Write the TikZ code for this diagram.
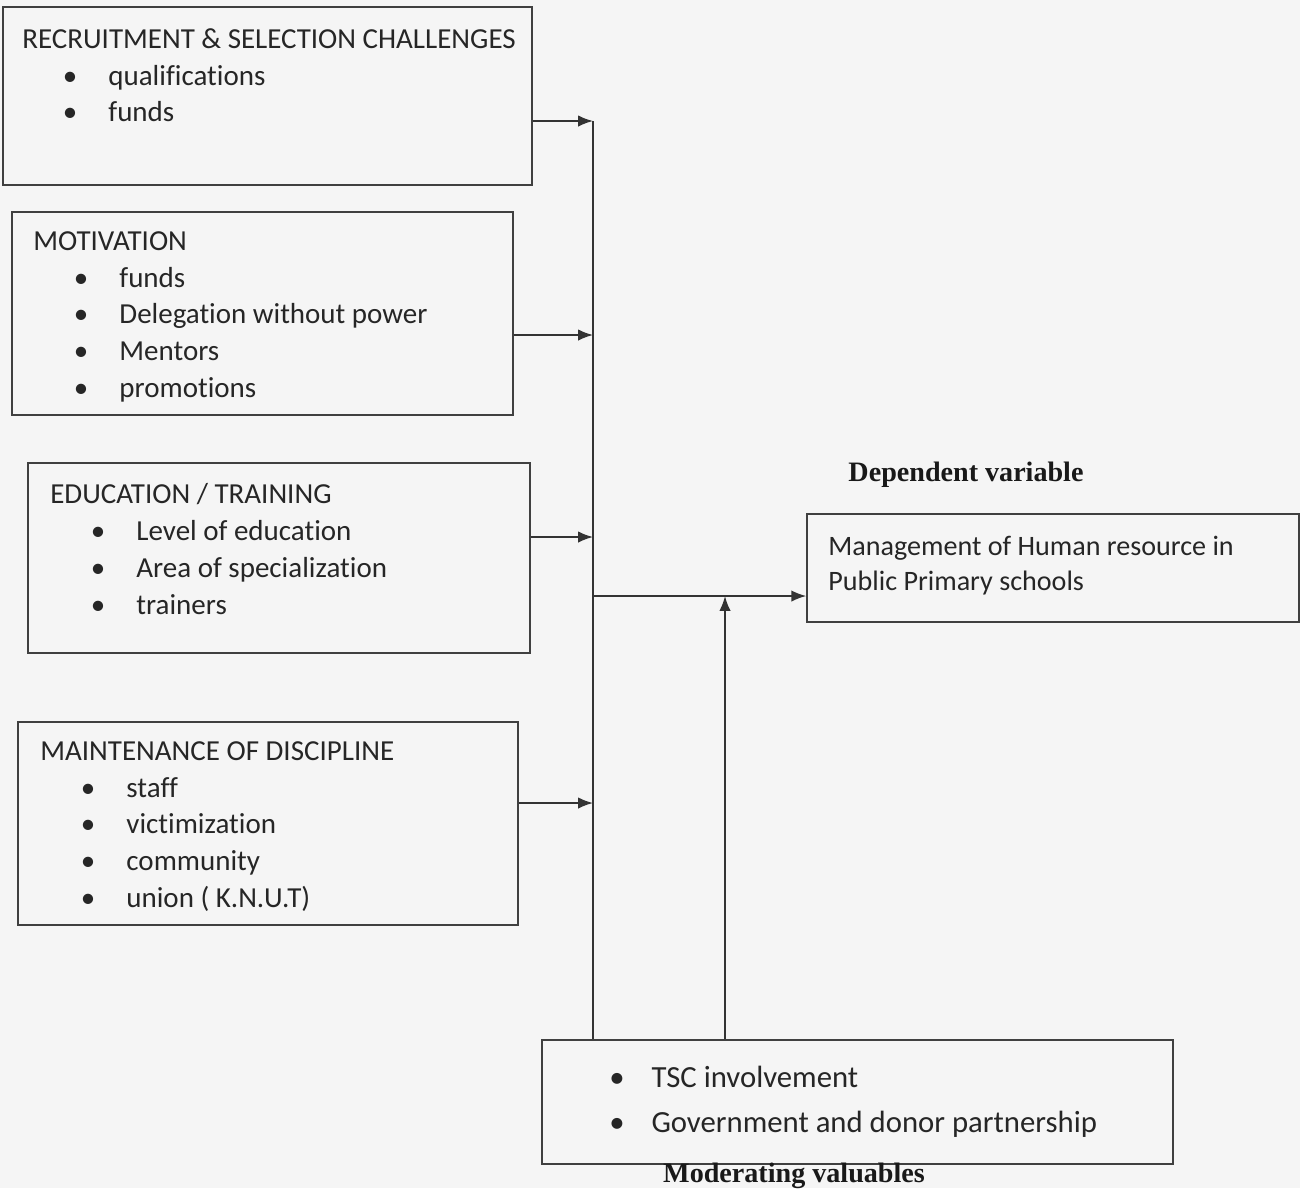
\documentclass[tikz,border=0pt]{standalone}
\usepackage{fontspec}
\setmainfont[Ligatures={NoCommon}]{Carlito}
\newfontfamily\capfont{Liberation Serif}
\usetikzlibrary{positioning, fit, arrows.meta}

\tikzset{
  box/.style={draw=black!75, line width=0.9pt, inner sep=0pt},
  listtext/.style={inner sep=0pt, align=left, text=black!85,
    font=\fontsize{16.5}{21}\selectfont},
  caption/.style={inner sep=0pt, text=black!90,
    font=\capfont\bfseries\fontsize{16}{18}\selectfont},
  bus/.style={draw=black!80, line width=0.9pt},
  arr/.style={bus, -{Latex[length=8.5pt, width=6.5pt]}},
}
\newcommand{\bitem}[1]{\\\hspace*{23pt}\makebox[26pt][l]{\textbullet}#1}

\begin{document}
\begin{tikzpicture}[x=0.02cm, y=-0.02cm]

    \fill[black!4] (0,0) rectangle (1300,1188);
    \useasboundingbox (0,0) rectangle (1300,1188);

    % independent variables
    \node[box, fit={(3,7) (532,185)}] (rec) {};
    \node[listtext, anchor=north west] (rectxt) at (22,28)
      {RECRUITMENT \& SELECTION CHALLENGES\bitem{qualifications}\bitem{funds}};

    \node[box, fit={(12,212) (513,415)}] (mot) {};
    \node[listtext, anchor=north west] (mottxt) at (33,231)
      {MOTIVATION\bitem{funds}\bitem{Delegation without power}\bitem{Mentors}\bitem{promotions}};

    \node[box, fit={(28,463) (530,653)}] (edu) {};
    \node[listtext, anchor=north west] (edutxt) at (50,483)
      {EDUCATION / TRAINING\bitem{Level of education}\bitem{Area of specialization}\bitem{trainers}};

    \node[box, fit={(18,722) (518,925)}] (dis) {};
    \node[listtext, anchor=north west] (distxt) at (40,741)
      {MAINTENANCE OF DISCIPLINE\bitem{staff}\bitem{victimization}\bitem{community}\bitem{union ( K.N.U.T)}};

    % dependent variable
    \node[caption] (deplbl) at (966,475) {Dependent variable};
    \node[box, fit={(807,514) (1299,622)}] (dep) {};
    \node[listtext, anchor=north west, font=\fontsize{16}{20}\selectfont] (deptxt) at (828,536)
      {Management of Human resource in\\Public Primary schools};

    % moderating variables
    \node[box, fit={(542,1040) (1173,1164)}] (mod) {};
    \node[listtext, anchor=north west, font=\fontsize{17.5}{25.6}\selectfont] (modtxt) at (609,1066)
      {\makebox[24pt][l]{\textbullet}TSC involvement\\\makebox[24pt][l]{\textbullet}Government and donor partnership};
    \node[caption] (modlbl) at (794,1176) {Moderating valuables};

    % connectors
    \coordinate (b1) at (593,121);
    \coordinate (b2) at (593,335);
    \coordinate (b3) at (593,537);
    \coordinate (b4) at (593,803);
    \coordinate (b5) at (593,596);
    \coordinate (up) at (725,596);

    \draw[bus] (b1) -- (b1 |- mod.north);
    \draw[arr] (rec.east |- b1) -- (b1);
    \draw[arr] (mot.east |- b2) -- (b2);
    \draw[arr] (edu.east |- b3) -- (b3);
    \draw[arr] (dis.east |- b4) -- (b4);
    \draw[arr] (b5) -- (b5 -| dep.west);
    \draw[arr] (up |- mod.north) -- (up);

  \end{tikzpicture}
\end{document}
